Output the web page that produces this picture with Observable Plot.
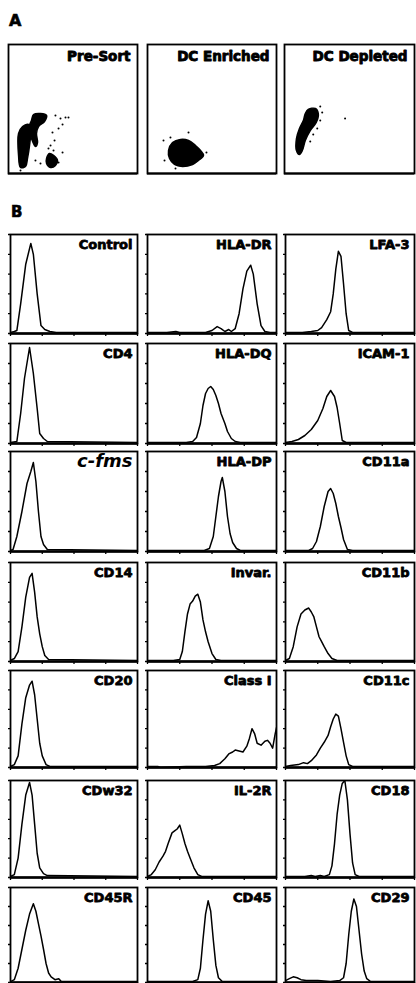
<!DOCTYPE html>
<html>
<head>
<meta charset="utf-8">
<script src="https://cdn.jsdelivr.net/npm/d3@7"></script>
<script src="https://cdn.jsdelivr.net/npm/@observablehq/plot@0.6"></script>
<style>
  html, body { margin: 0; padding: 0; background: #fff; }
  #root { position: relative; width: 416px; height: 983px; overflow: hidden; background: #fff; }
  #root svg { position: absolute; background: transparent !important; overflow: visible; }
  .letter { position: absolute; font-family: "DejaVu Sans", sans-serif; font-weight: bold; color: #000; -webkit-text-stroke: 0.6px #000; }
</style>
</head>
<body>
<div id="root"></div>
<script>
// ---------- DATA ----------
// Panel A: scatter blob outlines and scattered events (x, y in % of plot area)
const scatterLabels = ["Pre-Sort", "DC Enriched", "DC Depleted"];

const preSortBlob1 = [[7.8,31.0],[10.9,36.4],[15.5,38.0],[17.1,33.3],[16.3,21.7],[14.7,11.6],[13.2,5.4],[9.3,4.7],[7.8,14.0]];
const preSortBlob2 = [[19.4,45.7],[24.8,46.5],[29.5,45.0],[27.9,40.3],[23.3,36.4],[21.7,31.0],[22.5,24.0],[20.9,20.9],[17.8,27.1],[15.5,34.9],[17.8,41.1]];
const preSortBlob3 = [[29.5,11.6],[31.8,15.5],[34.9,14.0],[38.0,10.1],[36.4,6.2],[32.6,4.7],[29.5,7.8]];
const preSortDots = [[36.4,45.0],[40.3,42.6],[44.2,43.4],[46.5,43.4],[41.9,38.0],[38.8,34.9],[34.1,31.8],[35.7,25.6],[32.6,21.7],[31.0,19.4],[34.9,17.8],[41.9,16.3],[24.8,7.8],[20.9,10.1],[9.3,2.3],[38.8,8.5]];

const enrichedBlob = [[19.4,24.0],[25.6,26.4],[31.8,25.6],[37.2,21.7],[41.1,17.8],[43.4,14.0],[39.5,10.1],[34.9,7.0],[27.1,5.4],[20.9,7.0],[17.1,11.6],[16.3,17.8]];
const enrichedDots = [[12.4,25.6],[17.8,27.9],[31.8,31.8],[13.2,10.1],[45.7,16.3],[21.7,3.9]];

const depletedBlob = [[18.3,49.6],[23.7,50.4],[26.0,46.5],[24.4,39.5],[19.8,33.3],[16.0,25.6],[13.7,17.8],[11.5,14.7],[9.2,17.8],[9.2,27.1],[11.5,34.9],[14.5,41.1],[16.0,46.5]];
const depletedDots = [[27.5,51.9],[29.0,47.3],[27.5,41.1],[25.2,34.9],[22.1,30.2],[19.8,24.8],[46.6,42.6]];

// Panel B: histogram labels (row-major, 3 columns) and traces [channel %, count % of max]
const histLabels = ["Control","HLA-DR","LFA-3","CD4","HLA-DQ","ICAM-1","c-fms","HLA-DP","CD11a","CD14","Invar.","CD11b","CD20","Class I","CD11c","CDw32","IL-2R","CD18","CD45R","CD45","CD29"];

const hControl = [[0,1],[3,2],[5,3],[8,30],[12,70],[16,91],[18,80],[21,40],[24,8],[27,4],[31,2],[36,1],[100,1]];
const hHLADR = [[0,1],[15,1],[22,2],[25,1],[45,1],[50,3],[54,7],[57,5],[60,2],[63,4],[65,2],[68,5],[71,20],[74,45],[77,63],[80,69],[82,60],[85,30],[88,8],[91,2],[95,1],[100,1]];
const hLFA3 = [[0,1],[13,1],[20,2],[25,3],[28,6],[32,14],[35,22],[37,40],[39,65],[41,83],[43,78],[45,50],[47,20],[49,3],[52,1],[100,1]];
const hCD4 = [[0,1],[5,2],[8,30],[11,65],[15,96],[18,70],[21,35],[23,10],[26,5],[29,2],[100,1]];
const hHLADQ = [[0,1],[30,1],[35,2],[38,6],[41,20],[43,38],[45,50],[47,55],[49,57],[51,54],[53,48],[55,40],[57,30],[60,20],[62,12],[65,5],[68,2],[72,1],[100,1]];
const hICAM1 = [[0,1],[5,2],[10,4],[15,8],[20,14],[25,23],[29,35],[32,47],[35,53],[38,47],[40,36],[42,20],[44,3],[47,1],[100,1]];
const hCfms = [[0,1],[2,2],[5,15],[9,40],[13,68],[16,80],[18,89],[20,70],[22,40],[24,15],[26,7],[29,2],[100,1]];
const hHLADP = [[0,1],[44,1],[48,3],[51,15],[53,35],[55,55],[57,70],[58,74],[60,60],[62,35],[64,18],[66,9],[69,3],[72,1],[100,1]];
const hCD11a = [[0,1],[18,1],[21,3],[24,10],[27,25],[30,45],[33,60],[35,63],[37,58],[39,48],[41,35],[43,24],[45,12],[48,2],[52,1],[100,1]];
const hCD14 = [[0,1],[3,3],[6,10],[9,35],[12,65],[15,85],[17,89],[19,70],[21,45],[23,28],[25,15],[27,6],[30,2],[100,1]];
const hInvar = [[0,1],[20,1],[25,2],[27,10],[29,30],[31,48],[33,58],[35,61],[37,66],[39,68],[41,60],[43,42],[45,30],[47,20],[50,8],[53,2],[57,1],[100,1]];
const hCD11b = [[0,1],[3,3],[6,15],[9,35],[12,48],[15,52],[18,54],[20,50],[22,45],[24,35],[26,25],[28,20],[30,15],[33,8],[36,3],[40,1],[100,1]];
const hCD20 = [[0,1],[3,3],[6,12],[9,45],[12,72],[15,85],[17,89],[19,75],[21,50],[23,25],[25,12],[28,3],[31,1],[100,1]];
const hClassI = [[0,1],[8,1],[10,0],[30,1],[45,1],[52,2],[56,4],[60,9],[63,14],[66,16],[68,18],[71,17],[74,16],[77,22],[79,30],[81,40],[83,35],[85,25],[88,23],[91,27],[93,28],[95,25],[97,20],[99,35],[100,41]];
const hCD11c = [[0,1],[4,2],[10,3],[14,5],[17,4],[20,7],[24,13],[27,20],[30,26],[33,33],[35,42],[37,50],[39,55],[41,53],[43,40],[45,26],[47,12],[49,3],[52,1],[100,1]];
const hCDw32 = [[0,1],[3,3],[6,20],[9,55],[12,85],[15,98],[17,85],[19,55],[21,25],[23,10],[26,4],[29,2],[100,1]];
const hIL2R = [[0,1],[3,3],[6,8],[9,16],[12,22],[14,27],[16,35],[19,46],[21,48],[23,50],[25,54],[27,45],[29,35],[31,27],[33,20],[36,10],[39,3],[42,1],[100,1]];
const hCD18 = [[0,1],[15,1],[20,2],[23,1],[27,2],[30,1],[34,3],[36,12],[38,35],[40,65],[42,85],[44,97],[46,100],[48,80],[50,45],[52,15],[54,3],[57,1],[100,1]];
const hCD45R = [[0,1],[3,3],[6,15],[9,35],[12,55],[15,72],[18,83],[20,75],[22,62],[24,49],[26,35],[28,20],[30,10],[32,6],[35,3],[38,4],[40,1],[100,1]];
const hCD45 = [[0,1],[35,1],[39,3],[41,15],[43,45],[45,72],[47,86],[49,75],[51,45],[53,18],[55,5],[58,1],[100,1]];
const hCD29 = [[0,2],[3,4],[6,6],[9,5],[12,3],[16,2],[25,2],[35,1],[42,2],[45,5],[47,20],[49,50],[51,75],[53,88],[55,80],[57,55],[59,30],[61,12],[63,4],[66,1],[100,1]];

const histSeries = [hControl,hHLADR,hLFA3,hCD4,hHLADQ,hICAM1,hCfms,hHLADP,hCD11a,hCD14,hInvar,hCD11b,hCD20,hClassI,hCD11c,hCDw32,hIL2R,hCD18,hCD45R,hCD45,hCD29];

const xTicks = [0, 25, 50, 75, 100];
const yTicks = [0, 20, 40, 60, 80, 100];

// ---------- LAYOUT ----------
const root = document.getElementById("root");
const LABEL_FONT = "'DejaVu Sans', sans-serif";
const mL = 4, mR = 1, mT = 1, mB = 5;

function place(svg, left, top) {
  svg.style.left = (left - mL) + "px";
  svg.style.top = (top - mT) + "px";
  root.appendChild(svg);
}

function letter(t, x, y, size) {
  const d = document.createElement("div");
  d.className = "letter";
  d.textContent = t;
  d.style.left = x + "px"; d.style.top = y + "px"; d.style.fontSize = size + "px";
  root.appendChild(d);
}

letter("A", 9, 11, 16);
letter("B", 11, 203, 15);

// Panel A
const aBoxes = [{x: 8, w: 129}, {x: 147, w: 129}, {x: 284, w: 130}];
const aTop = 44, aH = 129;
const aBlobs = [
  [preSortBlob1, preSortBlob2, preSortBlob3],
  [enrichedBlob],
  [depletedBlob]
];
const aDots = [preSortDots, enrichedDots, depletedDots];

aBoxes.forEach((b, i) => {
  const blobRows = aBlobs[i].flatMap((pts, k) => pts.map(p => ({x: p[0], y: p[1], id: k})));
  const svg = Plot.plot({
    width: b.w + mL + mR, height: aH + mT + mB,
    marginLeft: mL, marginRight: mR, marginTop: mT, marginBottom: mB,
    x: {domain: [0, 100], axis: null},
    y: {domain: [0, 100], axis: null},
    marks: [
      Plot.line(blobRows, {x: "x", y: "y", z: "id", fill: "black", stroke: "black", strokeWidth: 1.5, curve: "catmull-rom-closed"}),
      Plot.dot(aDots[i], {x: d => d[0], y: d => d[1], r: 1, fill: "black", stroke: null}),
      Plot.frame({stroke: "black", strokeWidth: 1.8}),
      Plot.ruleY([0], {stroke: "black", strokeWidth: 2.2}),
      Plot.text([scatterLabels[i]], {text: d => d, frameAnchor: "top-right", dx: -7, dy: 7, lineAnchor: "top",
        fontSize: 13.5, fontWeight: "bold", fontFamily: LABEL_FONT, fill: "black", stroke: "black", strokeWidth: 0.9})
    ]
  });
  place(svg, b.x, aTop);
});

// Panel B
const bCols = [{x: 10, w: 127}, {x: 147, w: 129}, {x: 285, w: 129}];
const bRows = [{y: 234, h: 99}, {y: 343, h: 100}, {y: 451, h: 100}, {y: 562, h: 99}, {y: 670, h: 97}, {y: 780, h: 97}, {y: 887, h: 95}];

histSeries.forEach((series, i) => {
  const c = bCols[i % 3], r = bRows[Math.floor(i / 3)];
  const label = histLabels[i];
  const italic = label === "c-fms";
  const svg = Plot.plot({
    width: c.w + mL + mR, height: r.h + mT + mB,
    marginLeft: mL, marginRight: mR, marginTop: mT, marginBottom: mB,
    x: {domain: [0, 100], axis: null},
    y: {domain: [0, 100], axis: null},
    marks: [
      Plot.axisX(xTicks, {tickSize: 3, tickFormat: () => "", label: null, strokeWidth: 1.3}),
      Plot.axisY(yTicks, {tickSize: 2, tickFormat: () => "", label: null, strokeWidth: 1.3}),
      Plot.line(series, {x: d => d[0], y: d => d[1], stroke: "black", strokeWidth: 1.5, clip: true}),
      Plot.frame({stroke: "black", strokeWidth: 1.8}),
      Plot.ruleY([0], {stroke: "black", strokeWidth: 2.4}),
      Plot.text([label], {text: d => d, frameAnchor: "top-right", dx: -5, dy: italic ? 3 : 5, lineAnchor: "top",
        fontSize: italic ? 18 : 13, fontWeight: "bold", fontStyle: italic ? "italic" : "normal",
        fontFamily: LABEL_FONT, fill: "black", stroke: italic ? null : "black", strokeWidth: 0.8})
    ]
  });
  place(svg, c.x, r.y);
});
</script>
</body>
</html>
